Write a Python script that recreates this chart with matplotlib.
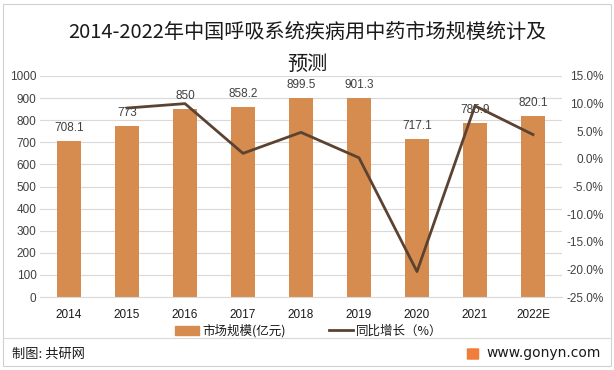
import matplotlib
matplotlib.use("Agg")
import matplotlib.pyplot as plt
from matplotlib.patches import Rectangle, FancyBboxPatch
from matplotlib.lines import Line2D

plt.rcParams['font.family'] = ['Noto Sans CJK SC', 'DejaVu Sans']

years = ['2014', '2015', '2016', '2017', '2018', '2019', '2020', '2021', '2022E']
market = [708.1, 773, 850, 858.2, 899.5, 901.3, 717.1, 785.9, 820.1]
growth = [None, 9.2, 10.0, 1.0, 4.8, 0.2, -20.4, 9.6, 4.4]
left_ticks = [0, 100, 200, 300, 400, 500, 600, 700, 800, 900, 1000]
right_ticks = [-25, -20, -15, -10, -5, 0, 5, 10, 15]

bar_color = '#D58C4E'
line_color = '#5B4231'
text_color = '#404040'
num_font = ['Liberation Sans', 'DejaVu Sans']

fig = plt.figure(figsize=(6.14, 3.70), dpi=100)
fig.patch.set_facecolor('white')

# outer frame
fig.add_artist(Rectangle((3/614, 4/370), 608/614, 362/370, transform=fig.transFigure,
                         fill=False, edgecolor='#D0D0D0', linewidth=0.8))
fig.add_artist(Line2D([3/614, 611/614], [1-338/370, 1-338/370], transform=fig.transFigure,
                      color='#D9D9D9', linewidth=0.8))

ax = fig.add_axes([40/614, 1-297/370, 522/614, 221/370])
x = list(range(len(years)))
ax.bar(x, market, width=0.4, color=bar_color, zorder=2)
ax.set_xlim(-0.5, len(years)-0.5)
ax.set_ylim(0, 1000)
ax.set_yticks(left_ticks)
ax.set_xticks(x)
ax.set_xticklabels(years)
ax.grid(axis='y', color='#D9D9D9', linewidth=0.8, zorder=0)
ax.set_axisbelow(True)
for s in ax.spines.values():
    s.set_visible(False)
ax.spines['bottom'].set_visible(True)
ax.spines['bottom'].set_color('#D9D9D9')
ax.tick_params(axis='both', length=0, labelsize=8.5, colors=text_color)
ax.tick_params(axis='x', pad=9, labelcolor='#1a1a1a', labelsize=8.5)
ax.tick_params(axis='y', pad=2.5)
for lab in ax.get_yticklabels() + ax.get_xticklabels():
    lab.set_family(num_font)
for xi, v in zip(x, market):
    ax.annotate(f'{v:g}', (xi, v), xytext=(0, 5), textcoords='offset points',
                ha='center', va='bottom', fontsize=8.5, color=text_color, zorder=5,
                family=num_font)

ax2 = ax.twinx()
gx = [xi for xi, g in zip(x, growth) if g is not None]
gy = [g for g in growth if g is not None]
ax2.plot(gx, gy, color=line_color, linewidth=2.0, zorder=4)
ax2.set_ylim(-25, 15)
ax2.set_yticks(right_ticks)
ax2.set_yticklabels([f'{t:.1f}%' for t in right_ticks])
for s in ax2.spines.values():
    s.set_visible(False)
ax2.tick_params(axis='y', length=0, labelsize=8.5, colors=text_color, pad=30)
for lab in ax2.get_yticklabels():
    lab.set_family(num_font)
    lab.set_horizontalalignment('right')

# legend
handles = [Rectangle((0, 0), 1, 1, color=bar_color),
           Line2D([0], [0], color=line_color, linewidth=2.0)]
fig.legend(handles, ['市场规模(亿元)', '同比增长（%）'], loc='center',
           bbox_to_anchor=(309/614, 1-331/370), ncol=2, frameon=False,
           fontsize=9, handlelength=1.9, handleheight=0.8, columnspacing=3.4,
           handletextpad=0.3, labelcolor='#1a1a1a', borderpad=0.1)

fig.text(0.5, 1-32/370, '2014-2022年中国呼吸系统疾病用中药市场规模统计及',
         ha='center', va='center', fontsize=14.5, color='#1a1a1a')
fig.text(0.5, 1-64/370, '预测', ha='center', va='center', fontsize=14.5, color='#1a1a1a')

fig.text(12/614, 1-354/370, '制图: 共研网', ha='left', va='center', fontsize=9.5, color='#1a1a1a')
fig.add_artist(FancyBboxPatch((468/614, 1-359/370), 10/614, 10/370, boxstyle='round,pad=0.002',
                              transform=fig.transFigure, facecolor='#F07E3A', edgecolor='none'))
fig.text(544/614, 1-353/370, 'www.gonyn.com', ha='center', va='center', fontsize=10,
         color='#1a1a1a', family=['DejaVu Sans'])

fig.savefig('out.png', dpi=100)
